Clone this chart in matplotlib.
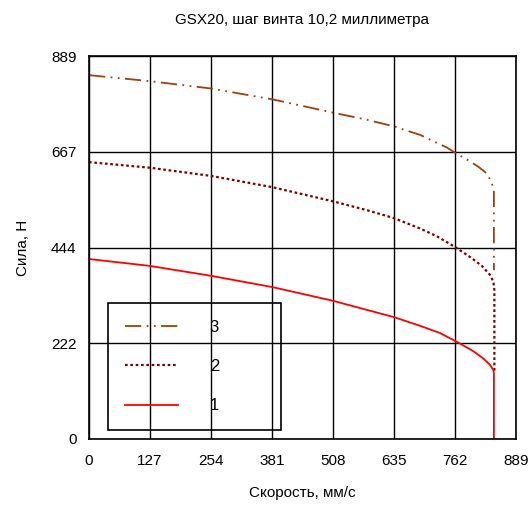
import matplotlib
matplotlib.use('Agg')
import matplotlib.pyplot as plt

plt.rcParams['font.family'] = ['Liberation Sans', 'DejaVu Sans']

# Data
x_ticks = [0, 127, 254, 381, 508, 635, 762, 889]
y_ticks = [0, 222, 444, 667, 889]

speed_1 = [0, 127, 254, 381, 508, 635, 689, 731, 772, 800, 821, 835, 842, 843, 843]
force_1 = [418, 402, 379, 353, 321, 283, 263, 246, 222, 204, 187, 172, 160, 152, 0]

speed_2 = [0, 127, 254, 381, 508, 580, 635, 689, 724, 762, 793, 818, 835, 842, 844, 844]
force_2 = [643, 630, 611, 585, 552, 531, 513, 489, 471, 446, 423, 402, 381, 365, 346, 155]

speed_3 = [0, 127, 254, 381, 508, 580, 635, 690, 720, 745, 762, 790, 811, 828, 838, 843, 843]
force_3 = [845, 831, 814, 789, 758, 741, 726, 706, 690, 677, 665, 647, 632, 617, 597, 578, 392]

fig = plt.figure(figsize=(5.32, 5.05), dpi=100)
ax = fig.add_axes([0.1673, 0.1307, 0.8026, 0.758])

l3, = ax.plot(speed_3, force_3, color='#A0400A', lw=1.3, dashes=(9, 3, 1, 3, 1, 3), label='3')
l2, = ax.plot(speed_2, force_2, color='#800000', lw=1.6, dashes=(1.2, 1.2), label='2')
l1, = ax.plot(speed_1, force_1, color='#FF0000', lw=1.3, label='1')

ax.set_xlim(0, 889)
ax.set_ylim(0, 889)
ax.set_xticks(x_ticks)
ax.set_yticks(y_ticks)
ax.grid(True, color='black', lw=1.0)
ax.tick_params(length=0, labelsize=11)
ax.tick_params(axis='x', pad=11)
ax.tick_params(axis='y', pad=9)
for s in ax.spines.values():
    s.set_linewidth(1.2)

ax.set_title('GSX20, шаг винта 10,2 миллиметра', fontsize=11, pad=23)
ax.set_xlabel('Скорость, мм/с', fontsize=11, labelpad=13)
ax.set_ylabel('Сила, Н', fontsize=11, labelpad=15)

leg = ax.legend(handles=[l3, l2, l1], loc='lower left',
                bbox_to_anchor=(0.0445, 0.0235, 0.405, 0.326), mode='expand',
                borderaxespad=0, fontsize=12, handlelength=3.2, handletextpad=1.9,
                labelspacing=1.45, borderpad=1.0, fancybox=False,
                facecolor='none', edgecolor='black', framealpha=1)
leg.get_frame().set_linewidth(1.2)

fig.savefig('out.png', dpi=100)
